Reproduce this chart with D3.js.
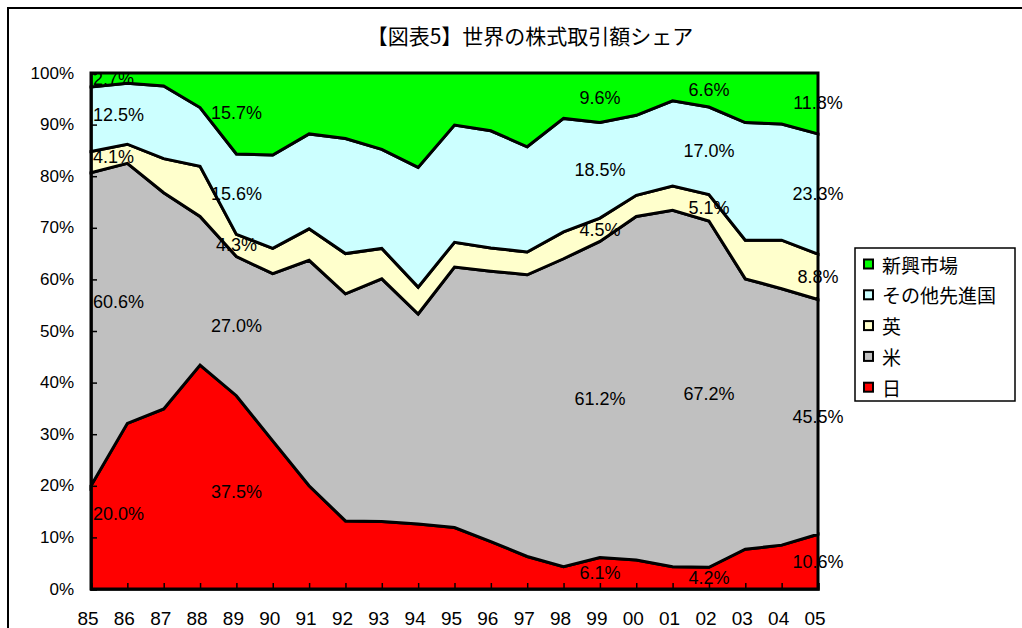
<!DOCTYPE html>
<html>
<head>
<meta charset="utf-8">
<script src="https://cdn.jsdelivr.net/npm/d3@7"></script>
<style>
  body { margin: 0; background: #fff; }
  svg { display: block; }
</style>
</head>
<body>
<div id="chart"></div>
<script>
// years on the x axis
const years = ['85','86','87','88','89','90','91','92','93','94','95','96','97','98','99','00','01','02','03','04','05']

// share of world stock trading value, %
const japan    = [20.0, 32.1, 34.9, 43.4, 37.5, 28.7, 20.0, 13.2, 13.1, 12.6, 11.9, 9.2, 6.3, 4.3, 6.1, 5.6, 4.3, 4.2, 7.7, 8.5, 10.6]
const us       = [60.6, 50.4, 41.9, 28.8, 27.0, 32.4, 43.7, 44.0, 47.0, 40.7, 50.5, 52.4, 54.6, 59.7, 61.2, 66.6, 69.1, 67.2, 52.4, 49.7, 45.5]
const uk       = [4.1, 3.7, 6.6, 9.7, 4.3, 4.9, 6.1, 7.8, 5.9, 5.2, 4.8, 4.5, 4.4, 5.2, 4.5, 4.1, 4.7, 5.1, 7.5, 9.4, 8.8]
const otherDev = [12.5, 11.8, 14.1, 11.4, 15.6, 18.1, 18.4, 22.3, 19.2, 23.2, 22.7, 22.7, 20.4, 22.0, 18.5, 15.5, 16.5, 17.0, 22.8, 22.5, 23.3]
const emerging = [2.7, 2.0, 2.5, 6.7, 15.7, 15.9, 11.8, 12.7, 14.8, 18.3, 10.1, 11.2, 14.3, 8.8, 9.6, 8.2, 5.4, 6.6, 9.6, 9.9, 11.8]

const seriesNames = ['日', '米', '英', 'その他先進国', '新興市場']
const seriesColors = ['#ff0000', '#c0c0c0', '#ffffcc', '#ccffff', '#00ff00']
const yTicks = [0, 0.1, 0.2, 0.3, 0.4, 0.5, 0.6, 0.7, 0.8, 0.9, 1]
// years that carry data labels
const labelYears = ['85', '89', '99', '02', '05']

const title = '【図表5】世界の株式取引額シェア'

const width = 1022
const height = 628
const margin = { left: 91, right: 204, top: 73, bottom: 39 }
const latin = "'Liberation Sans', Arial, sans-serif"
const cjk = "'Noto Sans CJK JP', sans-serif"

const svg = d3.select('#chart')
  .append('svg')
  .attr('width', width)
  .attr('height', height)

// outer chart frame (runs off the right/bottom edge like the original)
svg.append('rect')
  .attr('x', 8).attr('y', 8)
  .attr('width', width + 20).attr('height', height + 20)
  .attr('fill', '#fff')
  .attr('stroke', '#000')
  .attr('stroke-width', 2)

svg.append('text')
  .attr('x', 530)
  .attr('y', 35)
  .attr('text-anchor', 'middle')
  .attr('dominant-baseline', 'central')
  .attr('style', `font-family: ${cjk}; font-size: 21px; fill: #000`)
  .text(title)

const table = years.map((y, i) => ({
  year: y,
  '日': japan[i],
  '米': us[i],
  '英': uk[i],
  'その他先進国': otherDev[i],
  '新興市場': emerging[i]
}))

const stack = d3.stack()
  .keys(seriesNames)
  .offset(d3.stackOffsetExpand)
const layers = stack(table)

const x = d3.scalePoint()
  .domain(years)
  .range([margin.left, width - margin.right])

const y = d3.scaleLinear()
  .domain([0, 1])
  .range([height - margin.bottom, margin.top])

const area = d3.area()
  .x(d => x(d.data.year))
  .y0(d => y(d[0]))
  .y1(d => y(d[1]))

const g = svg.append('g')

g.selectAll('path.layer')
  .data(layers)
  .join('path')
  .attr('class', 'layer')
  .attr('d', area)
  .attr('fill', (d, i) => seriesColors[i])
  .attr('stroke', '#000')
  .attr('stroke-width', 3)
  .attr('stroke-linejoin', 'miter')

// axes with inward ticks
const yAxis = g.append('g')
  .attr('transform', `translate(${margin.left},0)`)
  .call(d3.axisRight(y).tickValues(yTicks).tickSize(6).tickFormat(''))
yAxis.select('.domain').attr('stroke-width', 2.5)
yAxis.selectAll('.tick line').attr('stroke-width', 1.5)

g.selectAll('text.ylab')
  .data(yTicks)
  .join('text')
  .attr('class', 'ylab')
  .attr('x', margin.left - 17)
  .attr('y', d => y(d))
  .attr('text-anchor', 'end')
  .attr('dominant-baseline', 'central')
  .attr('style', `font-family: ${latin}; font-size: 17px; fill: #000`)
  .text(d => d3.format('.0%')(d))

const xAxis = g.append('g')
  .attr('transform', `translate(0,${height - margin.bottom})`)
  .call(d3.axisTop(x).tickSize(6).tickFormat(''))
xAxis.select('.domain').attr('stroke-width', 2.5)
xAxis.selectAll('.tick line').attr('stroke-width', 1.5)

g.selectAll('text.xlab')
  .data(years)
  .join('text')
  .attr('class', 'xlab')
  .attr('x', d => x(d) - 3)
  .attr('y', height - margin.bottom + 29)
  .attr('text-anchor', 'middle')
  .attr('dominant-baseline', 'central')
  .attr('style', `font-family: ${latin}; font-size: 19px; fill: #000`)
  .text(d => d)

// data labels: centred in each band, kept inside the left edge
const step = x.step()
const bandMid = (layer, px) => {
  const t = (px - margin.left) / step
  const i = Math.max(0, Math.min(years.length - 2, Math.floor(t)))
  const f = t - i
  const a = layer[i], b = layer[i + 1]
  const lo = a[0] + (b[0] - a[0]) * f
  const hi = a[1] + (b[1] - a[1]) * f
  return (lo + hi) / 2
}

layers.forEach((layer, si) => {
  labelYears.forEach(yr => {
    const i = years.indexOf(yr)
    const value = table[i][seriesNames[si]]
    const label = g.append('text')
      .attr('text-anchor', 'middle')
      .attr('dominant-baseline', 'central')
      .attr('style', `font-family: ${latin}; font-size: 18px; fill: #000`)
      .text(value.toFixed(1) + '%')
    const w = label.node().getComputedTextLength()
    const cx = Math.max(x(yr), margin.left + 2 + w / 2)
    label.attr('x', cx).attr('y', y(bandMid(layer, cx)))
  })
})

// legend, top entry = top band
const legend = svg.append('g').attr('transform', 'translate(855,248)')
legend.append('rect')
  .attr('width', 160).attr('height', 153)
  .attr('fill', '#fff')
  .attr('stroke', '#000')
  .attr('stroke-width', 1.5)

const legendOrder = seriesNames.map((n, i) => i).reverse()
const rows = legend.selectAll('g.row')
  .data(legendOrder)
  .join('g')
  .attr('class', 'row')
  .attr('transform', (d, k) => `translate(0,${16 + k * 30.8})`)

rows.append('rect')
  .attr('x', 9).attr('y', -4.5)
  .attr('width', 9).attr('height', 9)
  .attr('fill', d => seriesColors[d])
  .attr('stroke', '#000')
  .attr('stroke-width', 2)

rows.append('text')
  .attr('x', 27)
  .attr('y', 0)
  .attr('dominant-baseline', 'central')
  .attr('style', `font-family: ${cjk}; font-size: 19px; fill: #000`)
  .text(d => seriesNames[d])
</script>
</body>
</html>
